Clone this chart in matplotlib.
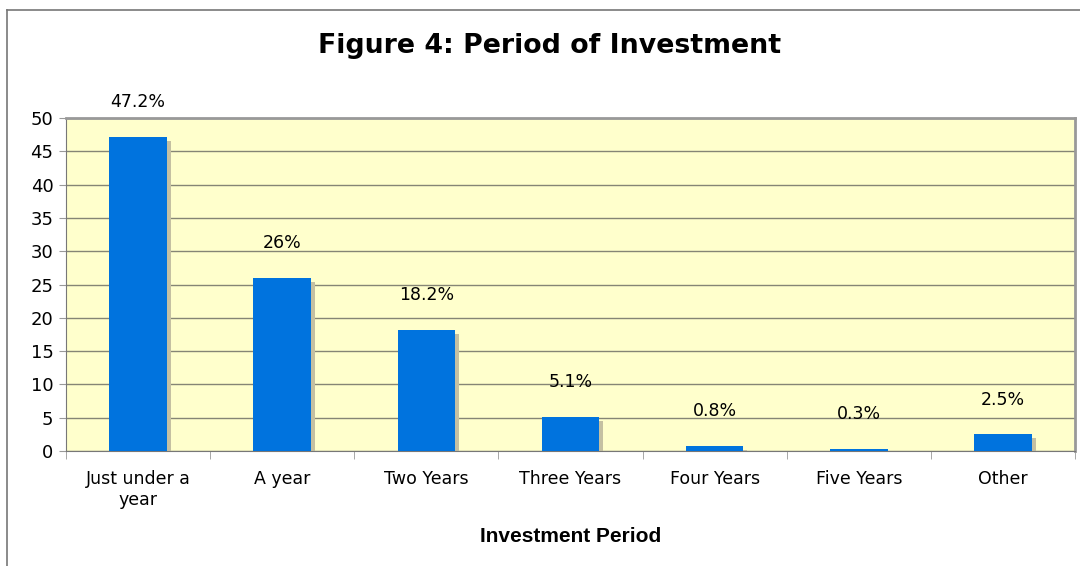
import numpy as np
import matplotlib.pyplot as plt
from matplotlib.transforms import ScaledTranslation

# данные
categories = ['Just under a\nyear', 'A year', 'Two Years', 'Three Years',
              'Four Years', 'Five Years', 'Other']
values = [47.2, 26, 18.2, 5.1, 0.8, 0.3, 2.5]
labels = ['47.2%', '26%', '18.2%', '5.1%', '0.8%', '0.3%', '2.5%']
yticks = [0, 5, 10, 15, 20, 25, 30, 35, 40, 45, 50]

fig = plt.figure(figsize=(10.8, 5.66), dpi=100)
ax = fig.add_axes([66 / 1080, 115 / 566, 1009 / 1080, 333 / 566])

x = np.arange(len(categories))

# тень под столбцами
shadow = ax.transData + ScaledTranslation(4 / 100, -4 / 100, fig.dpi_scale_trans)
ax.bar(x, values, width=0.4, color='#c4c0a2', transform=shadow, zorder=2)
ax.bar(x, values, width=0.4, color='#0073DE', zorder=3)

for xi, v, lab in zip(x, values, labels):
    ax.annotate(lab, (xi, v), xytext=(0, 25), textcoords='offset points',
                ha='center', va='center', fontsize=12.5, family='DejaVu Sans',
                annotation_clip=False)

ax.set_xlim(-0.5, len(categories) - 0.5)
ax.set_ylim(0, 50)
ax.set_facecolor('#FFFFCC')
ax.set_yticks(yticks)
ax.yaxis.grid(True, color='#858575', linewidth=1)
ax.set_axisbelow(True)

ax.set_xticks(x)
ax.set_xticklabels(categories, fontsize=12.5, family='DejaVu Sans')
ax.set_xticks(np.arange(-0.5, len(categories), 1), minor=True)
ax.tick_params(axis='x', which='major', length=0, pad=14)
ax.tick_params(axis='x', which='minor', length=6, color='#999999', direction='out')
ax.tick_params(axis='y', length=5, color='#999999', labelsize=13, pad=4)

for side in ['left', 'bottom']:
    ax.spines[side].set_color('#777777')
for side in ['top', 'right']:
    ax.spines[side].set_color('#999999')
    ax.spines[side].set_linewidth(2)

ax.set_xlabel('Investment Period', fontsize=15, fontweight='bold',
              family='Liberation Sans', labelpad=13)
fig.text(550 / 1080, 1 - 46 / 566, 'Figure 4: Period of Investment',
         ha='center', va='center', fontsize=19.3, fontweight='bold',
         family='DejaVu Sans')

# рамка рисунка
fig.add_artist(plt.Line2D([7 / 1080, 1], [1 - 10 / 566, 1 - 10 / 566],
                          color='#777777', linewidth=1.2, transform=fig.transFigure))
fig.add_artist(plt.Line2D([7 / 1080, 7 / 1080], [0, 1 - 10 / 566],
                          color='#777777', linewidth=1.2, transform=fig.transFigure))

fig.savefig('out.png', dpi=100)
